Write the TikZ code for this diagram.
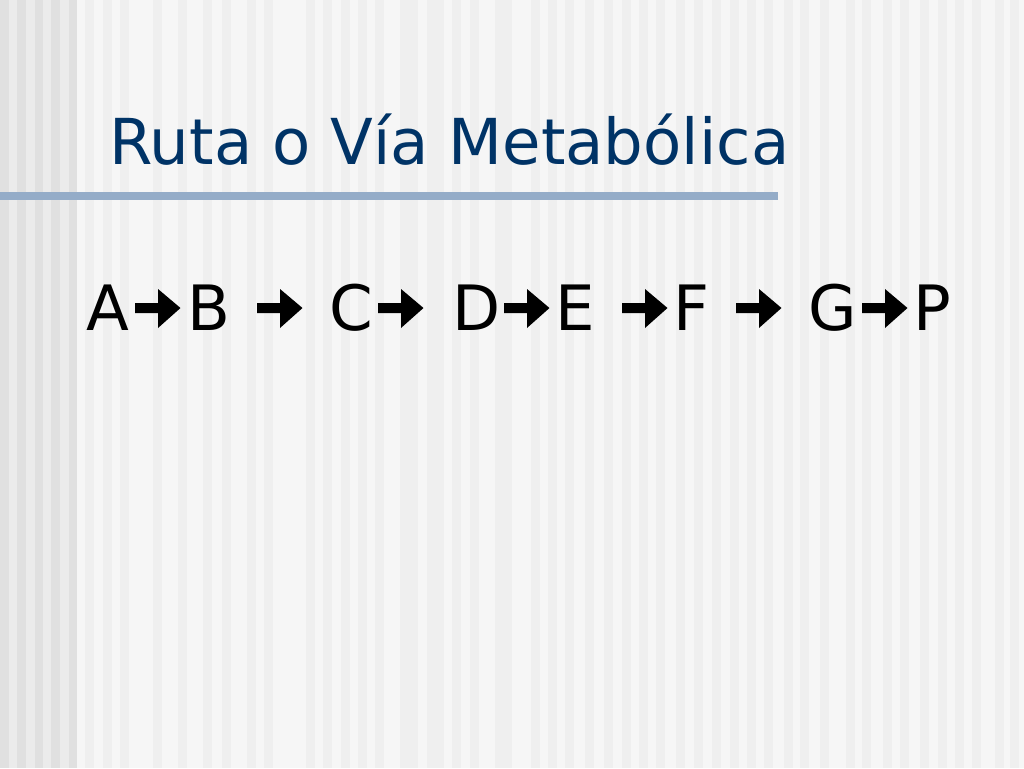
\documentclass[tikz,border=0pt]{standalone}
\usepackage{fontspec}
\setmainfont{DejaVu Sans}
\newfontfamily\titlefont{DejaVu Sans}
\usepackage{graphicx}
\definecolor{titleblue}{RGB}{0,51,102}
\definecolor{rulecol}{RGB}{148,172,200}
\definecolor{bgbase}{RGB}{246,246,246}
\definecolor{bgstripe}{RGB}{239,239,239}
\definecolor{leftdark}{RGB}{224,224,224}
\definecolor{leftlight}{RGB}{235,235,235}
\begin{document}
\begin{tikzpicture}[x=0.75pt,y=-0.75pt,
  letter/.style={anchor=base,inner sep=0pt,text=black,font=\fontsize{46.9pt}{50pt}\selectfont},
  titletext/.style={anchor=base west,inner sep=0pt,text=titleblue,font=\titlefont\fontsize{47.5pt}{50pt}\selectfont}]
\useasboundingbox (0,0) rectangle (1024,768);
% background
\fill[bgbase] (0,0) rectangle (1024,768);
\fill[leftlight] (0,0) rectangle (77,768);
\foreach \s in {0,17,34.5,51,68.5}{\fill[leftdark] (\s,0) rectangle (\s+8.5,768);}
\foreach \s in {85,103,120,153,178,203,222,247,264,306,323,341,358,375,400,409,427,435,452,470,495,503,
  531,548,565,585,604,622,639,656,676,694,712,730,747,764,784,800,820,846,862,883,900,920,938,955,972,995,1010}
  {\fill[bgstripe] (\s,0) rectangle (\s+8.5,768);}
% title and rule
\node[titletext] (title) at (109,164) {\resizebox{510pt}{\height}{Ruta o Vía Metabólica}};
\fill[rulecol] (0,192) rectangle (778,200);
% letters
\node[letter] (A) at (108,330) {A};
\node[letter] (B) at (209,330) {B};
\node[letter] (C) at (351,330) {C};
\node[letter] (D) at (477,330) {D};
\node[letter] (E) at (575.5,330) {E};
\node[letter] (F) at (691.5,330) {F};
\node[letter] (G) at (832.5,330) {G};
\node[letter] (P) at (932,330) {P};
% arrows
\foreach \x in {135,257,378,504,622,736,862}{
  \fill[black] (\x,303) -- (\x+23,303) -- (\x+23,289) -- (\x+45.5,308) -- (\x+23,328) -- (\x+23,313) -- (\x,313) -- cycle;}
\end{tikzpicture}
\end{document}
